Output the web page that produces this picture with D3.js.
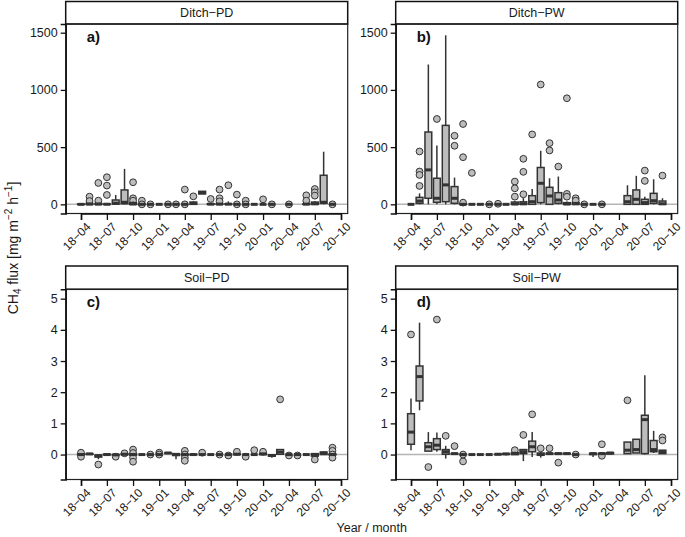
<!DOCTYPE html>
<html><head><meta charset="utf-8">
<script src="https://cdn.jsdelivr.net/npm/d3@7"></script>
<style>body{margin:0;background:#fff}svg{display:block}text{font-family:"Liberation Sans",Arial,sans-serif}</style>
</head><body><svg id="c" width="685" height="537"></svg>
<script>
// rows: [month, whiskerLow, q1, median, q3, whiskerHigh, outliers]
const ditchPD = [
 ["2018-04",0,0,0,2,3,[]],["2018-05",0,0,2,8,10,[67,29]],["2018-06",0,0,2,8,12,[187,32]],
 ["2018-07",0,0,1,3,6,[237,164,82]],["2018-08",0,2,10,38,82,[]],["2018-09",0,5,18,126,310,[]],
 ["2018-10",0,0,3,15,25,[193,53,32]],["2018-11",0,0,0,3,5,[32,0]],["2018-12",0,0,0,0,0,[0]],
 ["2019-01",0,0,0,0,0,[]],["2019-02",0,0,0,0,0,[0]],["2019-03",0,0,0,0,0,[0]],
 ["2019-04",0,0,0,0,0,[129,0]],["2019-05",0,0,8,20,25,[70]],["2019-06",91,91,102,114,114,[]],
 ["2019-07",0,0,2,5,8,[47]],["2019-08",0,0,2,6,10,[129,53,26]],["2019-09",0,0,2,5,26,[167]],
 ["2019-10",0,0,0,0,0,[85,0]],["2019-11",0,0,0,0,0,[32,0]],["2019-12",0,0,0,0,0,[]],
 ["2020-01",0,0,0,0,0,[44]],["2020-02",0,0,0,0,0,[0]],["2020-04",0,0,0,0,0,[0]],
 ["2020-06",0,0,2,5,8,[79,32]],["2020-07",0,0,5,20,30,[134,105,76]],["2020-08",0,9,18,254,460,[]],
 ["2020-09",0,0,0,0,0,[0]]
];
const ditchPW = [
 ["2018-04",0,0,0,0,0,[]],["2018-05",0,9,29,61,96,[462,287,257,161]],["2018-06",0,53,301,632,1222,[]],
 ["2018-07",0,18,53,228,515,[746]],["2018-08",0,23,170,690,1477,[]],["2018-09",0,9,53,155,234,[599,512]],
 ["2018-10",0,0,0,2,5,[702,412,15]],["2018-11",0,0,0,0,0,[275]],["2018-12",0,0,0,0,0,[]],
 ["2019-01",0,0,0,0,0,[0]],["2019-02",0,0,0,0,0,[5]],["2019-03",0,0,0,0,0,[]],
 ["2019-04",0,0,3,20,30,[199,140,67]],["2019-05",0,0,5,22,55,[398,284,88]],["2019-06",0,0,23,76,134,[611]],
 ["2019-07",0,15,184,322,468,[1047]],["2019-08",0,0,73,149,228,[535,471]],["2019-09",0,9,38,102,243,[330]],
 ["2019-10",0,0,3,15,25,[927,91,67]],["2019-11",0,0,5,15,20,[53,32]],["2019-12",0,0,0,0,0,[0]],
 ["2020-01",0,0,0,0,0,[]],["2020-02",0,0,0,0,0,[0]],
 ["2020-05",0,0,23,76,167,[]],["2020-06",0,0,44,126,249,[]],["2020-07",0,0,15,44,67,[295,205]],
 ["2020-08",0,9,32,96,219,[]],["2020-09",0,0,5,29,53,[251]]
];
const soilPD = [
 ["2018-04",-0.02,-0.01,0,0.02,0.03,[0.06,-0.07]],["2018-05",0,0.01,0.02,0.03,0.04,[]],
 ["2018-06",-0.15,-0.08,-0.04,-0.02,0,[-0.32]],["2018-07",-0.02,-0.01,0,0.01,0.02,[]],
 ["2018-08",-0.03,-0.02,-0.01,0,0.01,[-0.07]],["2018-09",-0.01,0,0.01,0.02,0.02,[0.04]],
 ["2018-10",-0.03,-0.02,0,0.02,0.03,[0.16,0.05,-0.1,-0.23]],["2018-11",0,0,0,0,0,[]],
 ["2018-12",0,0,0,0,0,[0]],["2019-01",0,0,0,0,0,[0.06,0]],["2019-02",0.03,0.04,0.05,0.05,0.06,[]],
 ["2019-03",-0.15,-0.03,0,0.03,0.04,[]],["2019-04",-0.02,-0.01,0,0.01,0.02,[0.12,0,-0.1,-0.2]],
 ["2019-05",-0.03,-0.01,0,0.01,0.02,[]],["2019-06",0,0,0,0,0,[0.06]],["2019-07",0,0,0,0,0,[]],
 ["2019-08",0,0,0,0,0,[0]],["2019-09",0,0,0,0,0,[-0.03]],["2019-10",0,0,0.01,0.02,0.03,[0.09]],
 ["2019-11",-0.01,0,0,0,0.01,[-0.07]],["2019-12",0,0,0,0,0,[0.14]],["2020-01",0,0,0.02,0.03,0.04,[0.09]],
 ["2020-02",-0.1,-0.05,-0.03,-0.01,0,[]],["2020-03",0,0.01,0.08,0.16,0.17,[1.77]],
 ["2020-04",0,0,0,0,0,[-0.03]],["2020-05",0,0,0,0,0,[-0.03]],["2020-06",0,0,0,0,0,[]],
 ["2020-07",-0.05,-0.05,-0.02,0.03,0.04,[-0.16]],["2020-08",0,0,0.05,0.08,0.09,[]],
 ["2020-09",-0.02,-0.01,0,0.02,0.04,[0.22,0.12,0,-0.1]]
];
const soilPW = [
 ["2018-04",0.14,0.33,0.72,1.31,1.80,[3.85]],["2018-05",1.42,1.72,2.50,2.84,4.23,[]],
 ["2018-06",0.11,0.11,0.25,0.38,0.72,[-0.40]],["2018-07",0.09,0.16,0.30,0.51,0.71,[4.33]],
 ["2018-08",-0.13,0.01,0.09,0.16,0.28,[0.60]],["2018-09",0,0.02,0.03,0.03,0.04,[0.27]],
 ["2018-10",0,0,0,0,0,[-0.22,0]],["2018-11",0,0,0,0,0,[]],["2018-12",0,0,0,0,0,[]],
 ["2019-01",0,0,0,0,0,[]],["2019-02",0,0,0.01,0.01,0.02,[]],["2019-03",-0.03,0.01,0.02,0.03,0.04,[]],
 ["2019-04",0,0,0.03,0.06,0.09,[0.14]],["2019-05",-0.21,0.03,0.09,0.16,0.18,[0.63]],
 ["2019-06",-0.08,0.09,0.25,0.43,0.72,[1.29]],["2019-07",-0.1,-0.02,0,0.05,0.08,[0.2]],
 ["2019-08",0,0.02,0.03,0.04,0.05,[0.2]],["2019-09",0,0.02,0.03,0.04,0.05,[-0.26]],
 ["2019-10",0,0.02,0.03,0.04,0.05,[]],["2019-11",0,0,0,0,0,[0]],
 ["2020-01",-0.08,0,0.03,0.04,0.05,[]],["2020-02",0,0.02,0.03,0.04,0.05,[0.33,-0.04]],
 ["2020-03",0,0.02,0.05,0.06,0.07,[]],["2020-05",0.03,0.03,0.14,0.40,0.40,[1.74]],
 ["2020-06",0.05,0.05,0.16,0.49,0.49,[]],["2020-07",0,0.03,1.12,1.26,2.54,[]],
 ["2020-08",0.05,0.09,0.16,0.45,0.76,[]],["2020-09",0.03,0.03,0.09,0.14,0.14,[0.55,0.45]]
];
const panelTitles = ["Ditch-PD","Ditch-PW","Soil-PD","Soil-PW"];
const panelTags = ["a)","b)","c)","d)"];
const ditchTicks = [0,500,1000,1500];
const soilTicks = [0,1,2,3,4,5];
const xTickMonths = ["2018-04","2018-07","2018-10","2019-01","2019-04","2019-07","2019-10","2020-01","2020-04","2020-07","2020-10"];

const svg = d3.select("#c");
const parse = d3.utcParse("%Y-%m");
const fmt = d3.utcFormat("%y-%m");
const minus = s => s.replace(/-/g,"\u2212");

const cols = [{l:65.7,r:347.7},{l:395.7,r:677.7}];
const rows = [
 {stripTop:1.5, top:24, bottom:213.5, domain:[-80,1576], ticks:ditchTicks},
 {stripTop:266, top:289.3, bottom:479.5, domain:[-0.8,5.3], ticks:soilTicks}
];
const datasets = [ditchPD, ditchPW, soilPD, soilPW];
const boxFill = "#bdbdbd", dark = "#333";

datasets.forEach((data,i)=>{
  const c = cols[i%2], r = rows[Math.floor(i/2)];
  const x = d3.scaleUtc().domain([parse("2018-04"),parse("2020-10")]).range([c.l+15.3,c.l+275.3]);
  const y = d3.scaleLinear().domain(r.domain).range([r.bottom,r.top]);
  const g = svg.append("g");
  // strip
  g.append("rect").attr("x",c.l).attr("y",r.stripTop).attr("width",c.r-c.l).attr("height",r.top-r.stripTop)
   .attr("fill","#fff").attr("stroke","#111").attr("stroke-width",1.5);
  g.append("text").attr("x",(c.l+c.r)/2).attr("y",(r.stripTop+r.top)/2+4.5).attr("text-anchor","middle")
   .attr("font-size",12.5).attr("fill","#1a1a1a").text(minus(panelTitles[i]));
  // zero line
  g.append("line").attr("x1",c.l).attr("x2",c.r).attr("y1",y(0)).attr("y2",y(0))
   .attr("stroke","#b5b5b5").attr("stroke-width",1.5);
  // outliers
  data.forEach(d=>{
    const cx = x(parse(d[0]));
    d[6].forEach(v=>{
      g.append("circle").attr("cx",cx).attr("cy",y(v)).attr("r",3.4)
       .attr("fill",boxFill).attr("stroke",dark).attr("stroke-width",1);
    });
  });
  // boxes
  const bw = 6.8;
  data.forEach(d=>{
    const cx = x(parse(d[0]));
    const [,lo,q1,med,q3,hi] = d;
    g.append("line").attr("x1",cx).attr("x2",cx).attr("y1",y(hi)).attr("y2",y(q3)).attr("stroke",dark).attr("stroke-width",1.5);
    g.append("line").attr("x1",cx).attr("x2",cx).attr("y1",y(q1)).attr("y2",y(lo)).attr("stroke",dark).attr("stroke-width",1.5);
    g.append("rect").attr("x",cx-bw/2).attr("y",y(q3)).attr("width",bw).attr("height",Math.max(0,y(q1)-y(q3)))
     .attr("fill",boxFill).attr("stroke",dark).attr("stroke-width",1.5);
    g.append("line").attr("x1",cx-bw/2).attr("x2",cx+bw/2).attr("y1",y(med)).attr("y2",y(med)).attr("stroke",dark).attr("stroke-width",3);
  });
  // panel border
  g.append("rect").attr("x",c.l).attr("y",r.top).attr("width",c.r-c.l).attr("height",r.bottom-r.top)
   .attr("fill","none").attr("stroke","#222").attr("stroke-width",1.2);
  // y axis
  const ya = g.append("g").attr("transform",`translate(${c.l},0)`)
   .call(d3.axisLeft(y).tickValues(r.ticks).tickFormat(d3.format("d")).tickSize(5).tickPadding(3));
  ya.select(".domain").attr("stroke","#111").attr("stroke-width",1.5);
  ya.selectAll(".tick line").attr("stroke","#111").attr("stroke-width",1.3);
  ya.selectAll(".tick text").attr("font-size",12.5).attr("fill","#1a1a1a").attr("font-family",null);
  // x axis
  const xa = g.append("g").attr("transform",`translate(0,${r.bottom})`)
   .call(d3.axisBottom(x).tickValues(xTickMonths.map(parse)).tickSize(6.5).tickFormat(()=>""));
  xa.select(".domain").attr("stroke","#111").attr("stroke-width",1.5);
  xa.selectAll(".tick line").attr("stroke","#111").attr("stroke-width",1.3);
  xTickMonths.forEach(m=>{
    const tx = x(parse(m));
    g.append("text").attr("text-anchor","end").attr("font-size",12).attr("fill","#1a1a1a")
     .attr("transform",`translate(${tx+10.5},${r.bottom+14}) rotate(-45)`).text(minus(fmt(parse(m))));
  });
  // tag
  g.append("text").attr("x",c.l+21).attr("y",r.top+18).attr("font-size",15).attr("font-weight","bold")
   .attr("fill","#111").text(panelTags[i]);
});

// axis titles
svg.append("text").attr("x",(cols[0].l+cols[1].r)/2).attr("y",532).attr("text-anchor","middle")
 .attr("font-size",12.5).attr("fill","#1a1a1a").text("Year / month");
const yt = svg.append("text").attr("text-anchor","middle").attr("font-size",14).attr("fill","#1a1a1a")
 .attr("transform","translate(18,248) rotate(-90)");
yt.append("tspan").text("CH");
yt.append("tspan").attr("font-size",10).attr("dy",3).text("4");
yt.append("tspan").attr("dy",-3).text(" flux [mg m");
yt.append("tspan").attr("font-size",10).attr("dy",-6).text("\u22122");
yt.append("tspan").attr("dy",6).text(" h");
yt.append("tspan").attr("font-size",10).attr("dy",-6).text("\u22121");
yt.append("tspan").attr("dy",6).text("]");
</script></body></html>
